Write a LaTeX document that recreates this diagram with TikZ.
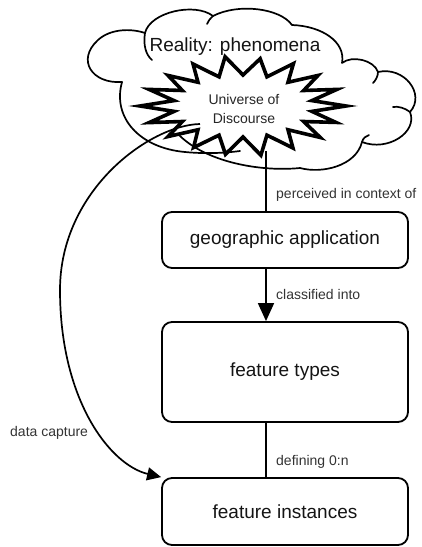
\documentclass[tikz,border=0pt]{standalone}
\usepackage{fontspec}
\setmainfont{Liberation Sans}
\usetikzlibrary{arrows.meta}
\begin{document}
\begin{tikzpicture}[x=1pt,y=-1pt,
  box/.style={draw, line width=1.8pt, rounded corners=10pt, minimum width=246pt,
    text=black!92, font=\fontsize{19}{22}\selectfont, inner sep=0pt},
  lbl/.style={anchor=west, font=\fontsize{14}{16}\selectfont, text=black!80, inner sep=0pt},
  conn/.style={line width=1.7pt},
  cloudline/.style={line width=1.7pt, line join=round, line cap=round}]
\useasboundingbox (0,0) rectangle (421,547);

% cloud
\draw[cloudline] (122,82) .. controls (92,84) and (76,60) .. (98,40)
  .. controls (110,29) and (130,28) .. (145,33)
  .. controls (150,12) and (195,2) .. (213,16)
  .. controls (238,3) and (280,8) .. (292,25)
  .. controls (322,26) and (346,42) .. (342,63)
  .. controls (352,55) and (374,60) .. (378,72)
  .. controls (404,66) and (426,94) .. (410,112)
  .. controls (418,132) and (388,152) .. (362,142)
  .. controls (356,166) and (322,174) .. (300,168)
  .. controls (260,172) and (205,162) .. (178,134);
\draw[cloudline] (122,82) .. controls (112,118) and (140,148) .. (185,152)
  .. controls (205,154) and (225,153) .. (240,151);
\draw[cloudline] (145,33) .. controls (143,45) and (146,55) .. (152,60);
\draw[cloudline] (213,16) .. controls (210,19) and (208,21) .. (207,24);
\draw[cloudline] (378,72) .. controls (378,76) and (376,80) .. (373,83);
\draw[cloudline] (410,112) .. controls (405,108) and (398,106) .. (393,107);
\draw[cloudline] (362,142) .. controls (363,138) and (366,136) .. (369,135);

\node[text=black!92] (reality) at (235,47) {\fontsize{19}{22}\selectfont Reality: phenomena};

% starburst
\begin{scope}[shift={(243,106)}]
\draw[line width=3.6pt, miter limit=20, fill=white] (0:103 and 50)
  \foreach \a/\k in {20/0.96,40/0.98,60/0.97,80/1.0,100/0.98,120/0.96,140/0.95,160/0.97,
                     180/1.0,200/0.97,220/0.95,240/0.97,260/1.0,280/0.96,300/0.98,320/0.95,340/0.97}
  { -- (\a-10:70 and 31) -- (\a:{103*\k} and {50*\k}) } -- (350:70 and 31) -- cycle;
\end{scope}
\node[align=center, font=\fontsize{14}{19}\selectfont, text=black!85] (uod) at (244,109) {Universe of\\Discourse};

% boxes
\node[box, minimum height=56pt] (b1) at (285,240) {geographic application};
\node[box, minimum height=100pt] (b2) at (285,372) {feature types};
\node[box, minimum height=67pt] (b3) at (285,511.5) {feature instances};

\coordinate (cx) at (266,0);
\coordinate (sb) at (266,151);
\draw[conn] (sb) -- (sb |- b1.north);
\draw[conn, -{Triangle[length=18pt,width=16pt]}] (b1.south -| cx) -- (b2.north -| cx);
\draw[conn] (b2.south -| cx) -- (b3.north -| cx);

\coordinate (dcs) at (200,124);
\draw[conn, -{Triangle[length=14pt,width=13pt]}] (dcs) .. controls (150,125) and (60,190) .. (60,290)
  .. controls (60,400) and (110,465) .. (b3.north west);

\node[lbl] (l1) at (276,195) {perceived in context of};
\node[lbl] (l2) at (276,294) {classified into};
\node[lbl] (l3) at (276,462) {defining 0:n};
\node[lbl] (l4) at (10,433) {data capture};
\end{tikzpicture}
\end{document}
